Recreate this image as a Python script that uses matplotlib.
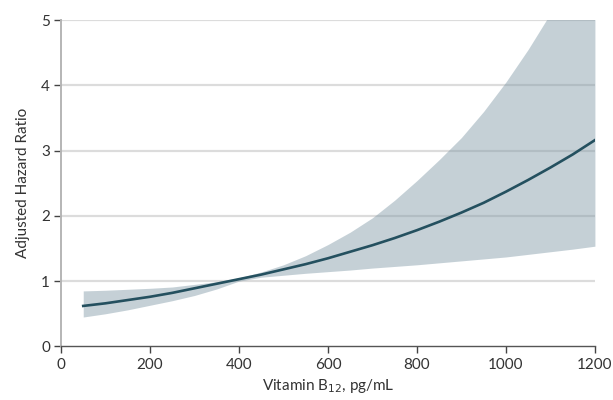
import numpy as np
import matplotlib.pyplot as plt

plt.rcParams['font.family'] = ['Lato', 'DejaVu Sans']

# values
b12 = [50, 100, 150, 200, 250, 300, 350, 400, 450, 500, 550, 600,
       650, 700, 750, 800, 850, 900, 950, 1000, 1050, 1100, 1150, 1200]
hr = [0.62, 0.66, 0.71, 0.76, 0.82, 0.89, 0.96, 1.03, 1.10, 1.18, 1.26, 1.35,
      1.45, 1.55, 1.66, 1.78, 1.91, 2.05, 2.20, 2.37, 2.55, 2.74, 2.94, 3.16]
hr_lo = [0.45, 0.50, 0.56, 0.63, 0.70, 0.78, 0.88, 1.00, 1.06, 1.09, 1.12, 1.145,
         1.17, 1.20, 1.225, 1.25, 1.28, 1.31, 1.34, 1.37, 1.41, 1.45, 1.49, 1.535]
hr_hi = [0.85, 0.86, 0.875, 0.89, 0.91, 0.95, 0.99, 1.05, 1.14, 1.25, 1.39, 1.56,
         1.75, 1.97, 2.24, 2.54, 2.86, 3.20, 3.60, 4.05, 4.55, 5.10, 5.72, 6.4]

xticks = [0, 200, 400, 600, 800, 1000, 1200]
yticks = [0, 1, 2, 3, 4, 5]

fig = plt.figure(figsize=(6.13, 4.0), dpi=100)
ax = fig.add_axes([0.0995, 0.134, 0.871, 0.816])

for y in yticks[1:]:
    ax.axhline(y, color='#dcdcdc', lw=1.6, zorder=1)

ax.fill_between(b12, hr_lo, hr_hi, color='#7f98a6', alpha=0.45, lw=0, zorder=2)
ax.plot(b12, hr, color='#24505f', lw=1.9, zorder=3)

ax.set_xlim(0, 1200)
ax.set_ylim(0, 5)
ax.set_xticks(xticks)
ax.set_yticks(yticks)

for s in ['top', 'right']:
    ax.spines[s].set_visible(False)
ax.spines['left'].set_color('#b5b5b5')
ax.spines['left'].set_linewidth(1.4)
ax.spines['bottom'].set_color('#555555')
ax.spines['bottom'].set_linewidth(1.0)
ax.tick_params(axis='both', direction='out', length=5, width=1,
               color='#444444', labelsize=11, labelcolor='#333333', pad=3)

ax.set_xlabel('Vitamin B$_{12}$, pg/mL', fontsize=11, color='#333333', labelpad=4)
ax.set_ylabel('Adjusted Hazard Ratio', fontsize=11, color='#333333', labelpad=8)

fig.savefig('out.png', dpi=100)
